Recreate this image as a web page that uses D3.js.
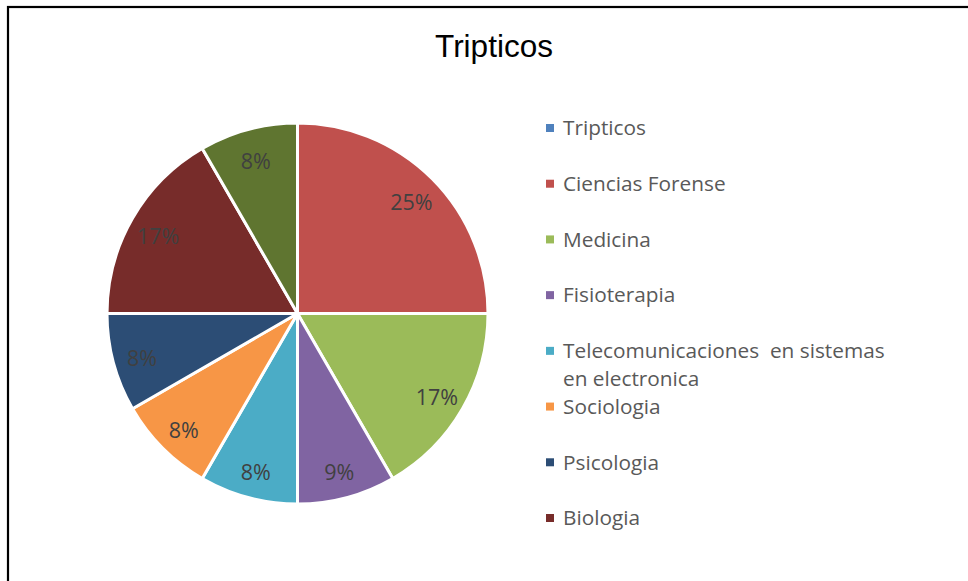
<!DOCTYPE html>
<html>
<head>
<meta charset="utf-8">
<script src="https://cdn.jsdelivr.net/npm/d3@7"></script>
<style>
html,body{margin:0;padding:0;background:#fff;}
svg{display:block;}
</style>
</head>
<body>
<svg id="chart" width="968" height="581"></svg>
<script>
const title = "Tripticos";
const categories = ["Tripticos","Ciencias Forense","Medicina","Fisioterapia","Telecomunicaciones  en sistemas en electronica","Sociologia","Psicologia","Biologia","Otros"];
const values = [0,3,2,1,1,1,1,2,1];
const pctLabels = ["0%","25%","17%","9%","8%","8%","8%","17%","8%"];
const colors = ["#4F81BD","#C0504D","#9BBB59","#8064A2","#4BACC6","#F79646","#2C4D75","#772C2A","#5F7530"];
const legendCount = 8;

const svg = d3.select("#chart");
// frame
svg.append("rect").attr("x",8).attr("y",7).attr("width",1000).attr("height",600)
  .attr("fill","#fff").attr("stroke","#000").attr("stroke-width",2.2);

svg.append("text").attr("x",494).attr("y",57).attr("text-anchor","middle")
  .attr("font-family","Liberation Sans, Arial, sans-serif").attr("font-size",31.5)
  .attr("fill","#000").text(title);

const cx = 297.5, cy = 313.5, r = 190.5;
const data = categories.map((c,i)=>({name:c,value:values[i],color:colors[i],label:pctLabels[i]}));
const pie = d3.pie().sort(null).value(d=>d.value);
const arcs = pie(data);
const arc = d3.arc().innerRadius(0).outerRadius(r);
const labelArc = d3.arc().innerRadius(r*0.845).outerRadius(r*0.845);
const g = svg.append("g").attr("transform",`translate(${cx},${cy})`);
g.selectAll("path").data(arcs.filter(a=>a.data.value>0)).join("path")
  .attr("d",arc).attr("fill",d=>d.data.color)
  .attr("stroke","#fff").attr("stroke-width",3).attr("stroke-linejoin","round");
g.selectAll("text.lbl").data(arcs.filter(a=>a.data.value>0)).join("text")
  .attr("class","lbl")
  .attr("transform",d=>{const c=labelArc.centroid(d);return `translate(${c[0]},${c[1]+3})`;})
  .attr("text-anchor","middle").attr("dy","0.36em")
  .attr("font-family","Open Sans, sans-serif").attr("font-size",21.5)
  .attr("fill","#404040")
  .text(d=>d.data.label);

// legend
const lg = svg.append("g");
const ly = d3.scaleLinear().domain([0,legendCount-1]).range([128,518]);
const items = data.slice(0,legendCount);
items.forEach((d,i)=>{
  const y = ly(i);
  lg.append("rect").attr("x",546).attr("y",y-4).attr("width",8).attr("height",8).attr("fill",d.color);
  const t = lg.append("text").attr("x",563).attr("y",y).attr("dy","0.35em")
    .attr("font-family","Open Sans, sans-serif").attr("font-size",20.8).attr("fill","#595959");
  if (i===4) {
    t.append("tspan").attr("x",563).text("Telecomunicaciones  en sistemas").style("white-space","pre");
    t.append("tspan").attr("x",563).attr("dy","1.35em").text("en electronica");
  } else {
    t.text(d.name);
  }
});
</script>
</body>
</html>
